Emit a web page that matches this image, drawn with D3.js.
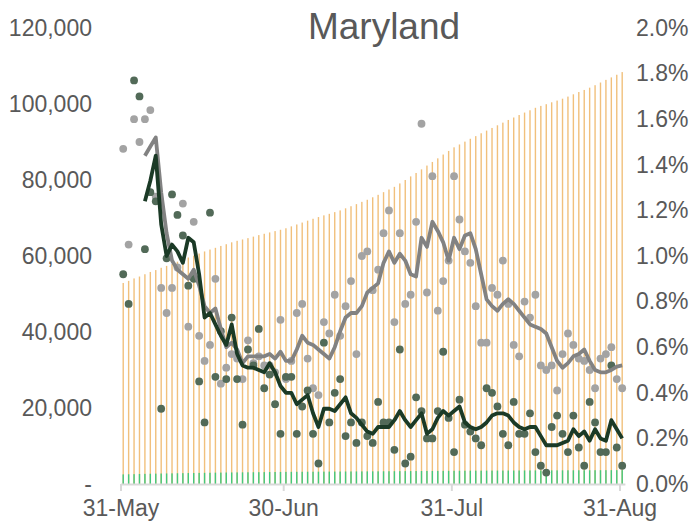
<!DOCTYPE html>
<html>
<head>
<meta charset="utf-8">
<script src="https://cdn.jsdelivr.net/npm/d3@7"></script>
<style>
  body { margin: 0; background: #fff; }
  text { font-family: "Liberation Sans", Arial, sans-serif; }
</style>
</head>
<body>
<div id="chart"></div>
<script>
// cumulative cases (left axis), one per day from 31-May to 31-Aug
var cases = [52900,53450,54100,54600,55200,55800,56300,56900,57400,57900,
  58500,59050,59600,60100,60650,61200,61700,62150,62650,63100,
  63600,64000,64350,64700,65100,65500,65850,66200,66550,66900,
  67300,67800,68300,68800,69300,69800,70250,70700,71100,71550,
  72000,72550,73100,73650,74250,74800,75450,76100,76800,77500,
  78200,79100,80000,80950,81850,82800,83800,84750,85700,86700,
  87650,88600,89350,90100,90850,91550,92300,93000,93700,94400,
  95100,95800,96450,97100,97750,98350,99000,99500,99950,100450,
  100900,101400,101950,102550,103150,103700,104300,104950,105650,106350,
  107000,107700,108400]

// cumulative deaths (left axis)
var deaths = [2530,2560,2590,2640,2670,2700,2730,2760,2780,2800,
  2830,2860,2880,2900,2920,2940,2960,2980,3000,3020,
  3040,3055,3070,3085,3100,3115,3130,3145,3160,3175,
  3190,3200,3210,3220,3230,3235,3245,3255,3260,3270,
  3280,3290,3300,3310,3315,3325,3335,3340,3350,3360,
  3370,3380,3390,3400,3410,3420,3430,3440,3450,3460,
  3470,3480,3490,3495,3505,3510,3515,3520,3530,3535,
  3540,3545,3550,3560,3565,3570,3575,3580,3585,3590,
  3595,3600,3605,3610,3615,3620,3625,3630,3635,3640,
  3645,3650,3660]

// daily case growth, % (right axis)
var caseGrowth = [1.47,1.05,1.60,1.50,1.60,1.64,1.26,0.86,0.75,0.86,
  0.95,1.23,0.69,1.15,0.65,0.54,0.61,0.90,0.44,0.51,
  0.57,0.55,0.46,0.63,0.53,0.56,0.52,0.52,0.49,0.72,
  0.46,0.54,0.75,0.79,0.55,0.42,0.39,0.71,0.66,0.83,
  0.65,0.78,0.89,0.57,1.00,1.02,0.85,0.94,1.10,1.20,
  0.71,1.10,0.79,0.83,1.15,1.58,0.84,1.35,0.76,0.89,
  0.98,1.35,1.16,1.02,0.97,0.78,0.62,0.62,0.86,0.83,
  0.98,0.79,0.61,0.56,0.80,0.73,0.83,0.52,0.50,0.52,
  0.41,0.57,0.66,0.61,0.55,0.54,0.50,0.42,0.55,0.57,
  0.60,0.46,0.42]

// daily death growth, % (right axis)
var deathGrowth = [0.92,0.79,1.77,1.70,1.03,1.28,1.24,0.33,0.99,1.27,
  1.18,1.09,0.87,0.90,0.45,0.27,1.19,0.47,0.67,0.46,
  0.73,0.46,0.26,0.59,0.52,0.68,0.42,0.48,0.35,0.22,
  0.47,0.47,0.22,0.34,0.41,0.22,0.09,0.62,0.27,0.40,
  0.46,0.21,0.27,0.18,0.27,0.21,0.18,0.36,0.27,0.27,
  0.15,0.59,0.09,0.12,0.38,0.32,0.20,0.20,0.32,0.58,
  0.29,0.14,0.37,0.26,0.23,0.20,0.17,0.42,0.40,0.34,
  0.22,0.17,0.36,0.22,0.22,0.31,0.14,0.08,0.05,0.25,
  0.30,0.22,0.14,0.30,0.16,0.08,0.36,0.27,0.14,0.14,
  0.52,0.16,0.08]

// 7-day averages, % (right axis)
var caseAvg = [null,null,null,null,1.44,1.48,1.52,1.28,1.10,0.98,
  0.94,0.92,0.90,0.94,0.87,0.78,0.75,0.77,0.68,0.60,
  0.62,0.59,0.53,0.56,0.56,0.56,0.56,0.57,0.55,0.58,
  0.54,0.54,0.59,0.65,0.62,0.61,0.59,0.57,0.55,0.60,
  0.67,0.73,0.75,0.75,0.78,0.84,0.86,0.88,0.97,1.02,
  0.97,1.01,0.98,0.92,0.91,1.08,1.04,1.15,1.11,1.06,
  0.98,1.08,1.03,1.09,1.10,1.03,0.92,0.81,0.78,0.76,
  0.79,0.81,0.79,0.76,0.73,0.70,0.69,0.68,0.66,0.60,
  0.54,0.51,0.53,0.56,0.57,0.59,0.54,0.50,0.49,0.49,
  0.50,0.515,0.52]

var deathAvg = [null,null,null,null,1.24,1.33,1.44,1.14,1.00,1.05,
  1.02,0.97,1.08,1.06,0.92,0.73,0.75,0.70,0.65,0.61,
  0.70,0.57,0.52,0.51,0.51,0.50,0.49,0.53,0.49,0.43,
  0.40,0.40,0.35,0.37,0.39,0.31,0.25,0.33,0.33,0.32,
  0.35,0.38,0.31,0.29,0.26,0.23,0.22,0.25,0.25,0.25,
  0.28,0.32,0.28,0.25,0.28,0.31,0.22,0.24,0.29,0.32,
  0.30,0.32,0.34,0.27,0.25,0.24,0.25,0.27,0.30,0.31,
  0.31,0.30,0.27,0.25,0.24,0.25,0.25,0.21,0.17,0.17,
  0.17,0.18,0.19,0.24,0.21,0.23,0.19,0.24,0.20,0.19,
  0.28,0.24,0.20]

var leftTicks = [0,20000,40000,60000,80000,100000,120000]
var rightTicks = [0,0.2,0.4,0.6,0.8,1.0,1.2,1.4,1.6,1.8,2.0]
var dateTicks = ["2020-05-31","2020-06-30","2020-07-31","2020-08-31"]

var width = 696, height = 528
var svg = d3.select("#chart").append("svg")
  .attr("width", width)
  .attr("height", height)

var parse = d3.timeParse("%Y-%m-%d")
var start = parse("2020-05-31")
var days = d3.timeDay.range(start, d3.timeDay.offset(start, cases.length))

var x = d3.scaleTime()
  .domain([start, d3.timeDay.offset(start, 93)])
  .range([120.5, 624.9])
var xc = function(i) { return x(days[i]) + (x(d3.timeDay.offset(days[i], 1)) - x(days[i])) / 2 }

var yL = d3.scaleLinear().domain([0, 120000]).range([484, 28])
var yR = d3.scaleLinear().domain([0, 2.0]).range([484, 28])

// title
svg.append("text")
  .attr("x", 384).attr("y", 39)
  .attr("text-anchor", "middle")
  .style("font-size", "37px")
  .style("fill", "#595959")
  .text("Maryland")

// cumulative cases bars
svg.append("g").selectAll("rect")
  .data(cases)
  .enter().append("rect")
  .attr("x", function(d, i) { return xc(i) - 0.7 })
  .attr("width", 1.4)
  .attr("y", function(d) { return yL(d) })
  .attr("height", function(d) { return yL(0) - yL(d) })
  .attr("fill", "#f1c07c")

// cumulative deaths bars
svg.append("g").selectAll("rect")
  .data(deaths)
  .enter().append("rect")
  .attr("x", function(d, i) { return xc(i) - 0.7 })
  .attr("width", 1.4)
  .attr("y", function(d) { return yL(d) })
  .attr("height", function(d) { return yL(0) - yL(d) })
  .attr("fill", "#45c87c")

// bottom axis
var xAxis = svg.append("g")
  .attr("transform", "translate(0,484)")
  .call(d3.axisBottom(x)
    .tickValues(dateTicks.map(parse))
    .tickFormat(d3.timeFormat("%d-%b"))
    .tickSizeInner(7).tickSizeOuter(0).tickPadding(9))
xAxis.select(".domain").attr("stroke", "#d9d9d9").attr("stroke-width", 2)
xAxis.selectAll(".tick line").attr("stroke", "#d9d9d9").attr("stroke-width", 2)
xAxis.selectAll("text").style("font-size", "23px").style("fill", "#595959")

// left axis
var yAxisL = svg.append("g")
  .attr("transform", "translate(100,0)")
  .call(d3.axisLeft(yL).tickValues(leftTicks).tickSize(0).tickPadding(8)
    .tickFormat(function(d) { return d === 0 ? "-" : d3.format(",")(d) }))
yAxisL.select(".domain").remove()
yAxisL.selectAll("text").style("font-size", "23px").style("fill", "#595959")

// right axis
var yAxisR = svg.append("g")
  .attr("transform", "translate(630,0)")
  .call(d3.axisRight(yR).tickValues(rightTicks).tickSize(0).tickPadding(6)
    .tickFormat(function(d) { return d.toFixed(1) + "%" }))
yAxisR.select(".domain").remove()
yAxisR.selectAll("text").style("font-size", "23px").style("fill", "#595959")

// daily dots
svg.append("g").selectAll("circle")
  .data(caseGrowth)
  .enter().append("circle")
  .attr("cx", function(d, i) { return xc(i) })
  .attr("cy", function(d) { return yR(d) })
  .attr("r", 3.9)
  .attr("fill", "#a3a3a3")

svg.append("g").selectAll("circle")
  .data(deathGrowth)
  .enter().append("circle")
  .attr("cx", function(d, i) { return xc(i) })
  .attr("cy", function(d) { return yR(d) })
  .attr("r", 3.9)
  .attr("fill", "#526a58")

// 7-day average lines
var line = d3.line()
  .defined(function(d) { return d != null })
  .x(function(d, i) { return xc(i) })
  .y(function(d) { return yR(d) })

svg.append("path")
  .datum(caseAvg)
  .attr("d", line)
  .attr("fill", "none")
  .attr("stroke", "#828282")
  .attr("stroke-width", 3.8)
  .attr("stroke-linejoin", "round")

svg.append("path")
  .datum(deathAvg)
  .attr("d", line)
  .attr("fill", "none")
  .attr("stroke", "#1b3a26")
  .attr("stroke-width", 3.8)
  .attr("stroke-linejoin", "round")
</script>
</body>
</html>
